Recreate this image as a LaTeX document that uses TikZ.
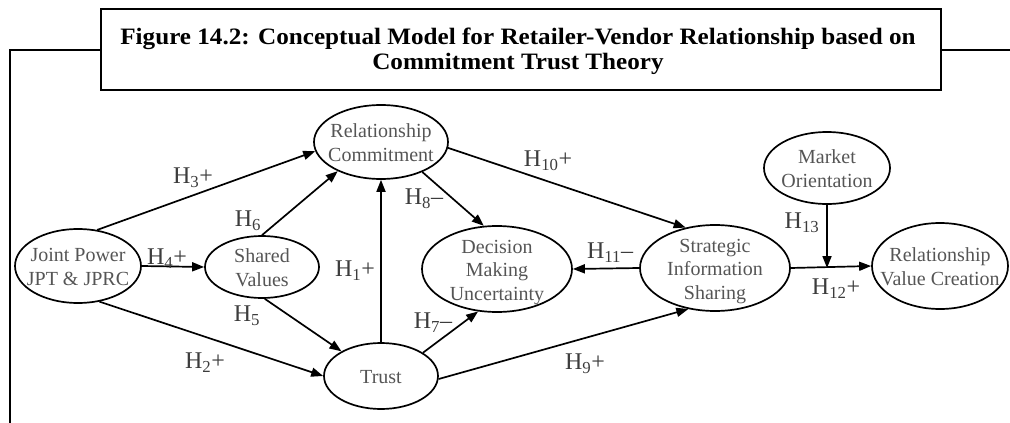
\documentclass[tikz,border=0pt]{standalone}
\usepackage{fontspec}
\setmainfont{Liberation Serif}
\usetikzlibrary{arrows.meta,shapes.geometric}
\definecolor{nodetext}{RGB}{85,85,85}
\definecolor{labtext}{RGB}{60,60,60}
\newcommand{\ntext}[1]{\smash{\makebox[0pt]{\raisebox{-8pt}{\fontsize{20}{23.5}\selectfont\begin{tabular}{@{}c@{}}#1\end{tabular}}}}}
\begin{document}
\begin{tikzpicture}[x=1pt,y=-1pt,
  ell/.style args={#1/#2}{ellipse, draw=black, line width=1.7pt, inner sep=0pt,
    minimum width=#1pt, minimum height=#2pt, text=nodetext},
  arr/.style={draw=black, line width=1.7pt, -{Triangle[length=12pt,width=9pt]}},
  lab/.style={inner sep=0pt, text=labtext, font=\fontsize{24}{26}\selectfont},
  frame/.style={draw=black, line width=2.6pt}]
\useasboundingbox (0,0) rectangle (1010,423);
% outer frame and title box
\draw[frame] (101,50) -- (10,50) -- (10,424);
\draw[frame] (941,50) -- (1011,50);
\draw[frame, fill=white] (101,9) rectangle (941,90);
\node[inner sep=0pt, align=center, font=\bfseries\fontsize{23.5}{25}\selectfont] (title) at (518,51)
  {\scalebox{1.07}[1]{Figure 14.2: Conceptual Model for Retailer-Vendor Relationship based on}\\
   \scalebox{1.07}[1]{Commitment Trust Theory}};
% nodes
\node[ell=126/74] (jp)  at (78,266)  {\ntext{Joint Power\\JPT \& JPRC}};
\node[ell=114/62] (sv)  at (262,267) {\ntext{Shared\\Values}};
\node[ell=134/74] (rc)  at (381,142) {\ntext{Relationship\\Commitment}};
\node[ell=150/86] (dmu) at (497,269) {\ntext{Decision\\Making\\Uncertainty}};
\node[ell=114/66] (tr)  at (381,376) {\ntext{Trust}};
\node[ell=150/86] (sis) at (715,268) {\ntext{Strategic\\Information\\Sharing}};
\node[ell=126/72] (mo)  at (827,168) {\ntext{Market\\Orientation}};
\node[ell=136/86] (rvc) at (940,266) {\ntext{Relationship\\Value Creation}};
\coordinate (j) at (mo.south |- sis.east);
% connectors
\draw[arr] (jp.62) -- (rc.188);
\draw[arr] (sv.90) -- (rc.214);
\draw[arr] (jp.east) -- (sv.west);
\draw[arr] (jp.-59) -- (tr.west);
\draw[arr] (sv.-85) -- (tr.148);
\draw[arr] (tr.north) -- (rc.south);
\draw[arr] (tr.29) -- (dmu.246);
\draw[arr] (tr.-3) -- (sis.237);
\draw[arr] (rc.-36) -- (dmu.107);
\draw[arr] (rc.-5) -- (sis.126);
\draw[arr] (sis.west) -- (dmu.east);
\draw[arr] (sis.east) -- (rvc.west);
\draw[arr] (mo.south) -- (j);
% labels
\node[lab] (h3)  at (193,178) {H\textsubscript{3}+};
\node[lab] (h6)  at (248,221) {H\textsubscript{6}};
\node[lab] (h4)  at (167,259) {H\textsubscript{4}+};
\node[lab] (h2)  at (205,363) {H\textsubscript{2}+};
\node[lab] (h5)  at (247,316) {H\textsubscript{5}};
\node[lab] (h1)  at (355,271) {H\textsubscript{1}+};
\node[lab] (h7)  at (433,323) {H\textsubscript{7}–};
\node[lab] (h8)  at (424,199) {H\textsubscript{8}–};
\node[lab] (h10) at (548,161) {H\textsubscript{10}+};
\node[lab] (h11) at (610,253) {H\textsubscript{11}–};
\node[lab] (h9)  at (585,364) {H\textsubscript{9}+};
\node[lab] (h13) at (802,223) {H\textsubscript{13}};
\node[lab] (h12) at (836,289) {H\textsubscript{12}+};
\end{tikzpicture}
\end{document}
